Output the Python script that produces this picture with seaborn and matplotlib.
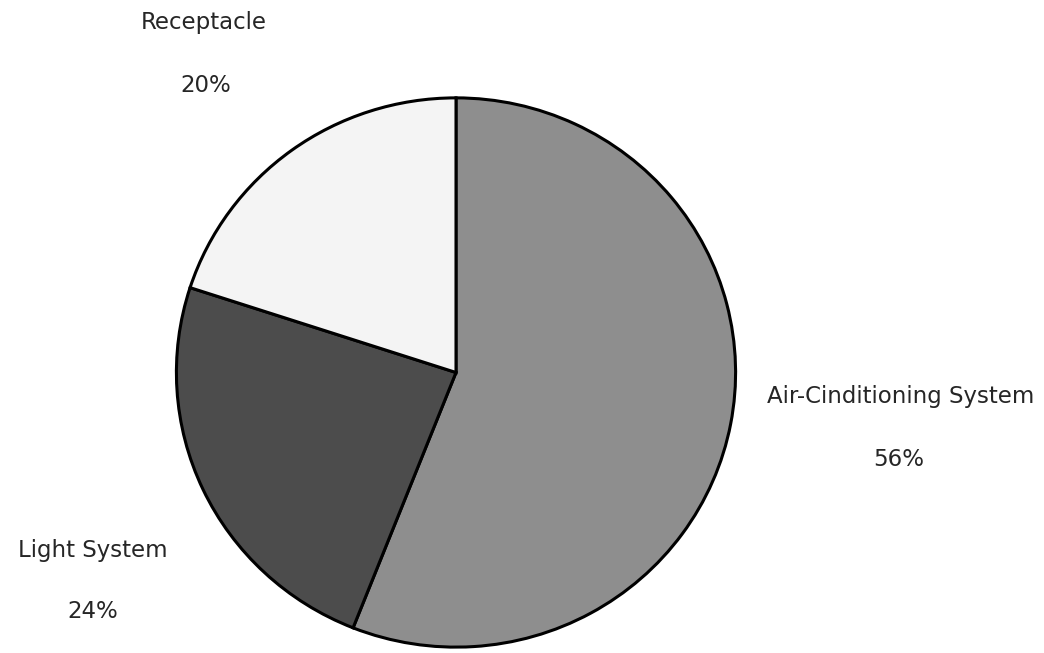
import matplotlib
matplotlib.use("Agg")
import matplotlib.pyplot as plt
import seaborn as sns

# Share of building electricity use by system (%)
categories = ["Air-Cinditioning System", "Light System", "Receptacle"]
shares = [56, 24, 20]
fills = ["#8e8e8e", "#4c4c4c", "#f4f4f4"]

sns.set_theme(style="white")
plt.rcParams["font.family"] = ["DejaVu Sans"]

W, H = 1044, 653
fig = plt.figure(figsize=(W / 100, H / 100), dpi=100)
fig.patch.set_facecolor("white")

# pie occupies a box centred at (456, 372) px, radii 281 x 276 px
cx, cy, rx, ry = 456, 372.5, 281, 276
ax = fig.add_axes([(cx - rx) / W, 1 - (cy + ry) / H, 2 * rx / W, 2 * ry / H])
wedges, _ = ax.pie(
    shares,
    colors=sns.color_palette(fills),
    startangle=90,
    counterclock=False,
    radius=1.0,
    wedgeprops=dict(edgecolor="black", linewidth=2.2),
)
ax.set_aspect("auto")
ax.set_xlim(-1.005, 1.005)
ax.set_ylim(-1.005, 1.005)
ax.axis("off")

# label positions in pixels (name line, percentage line)
label_pos = {
    "Air-Cinditioning System": ((901, 396), (899, 460)),
    "Light System": ((93, 550), (93, 611)),
    "Receptacle": ((204, 22), (206, 85)),
}
for name, val in zip(categories, shares):
    (x1, y1), (x2, y2) = label_pos[name]
    fig.text(x1 / W, 1 - y1 / H, name, ha="center", va="center",
             fontsize=16.5, color="#262626")
    fig.text(x2 / W, 1 - y2 / H, f"{val}%", ha="center", va="center",
             fontsize=16.5, color="#262626")

fig.savefig("out.png", dpi=100, facecolor="white")
